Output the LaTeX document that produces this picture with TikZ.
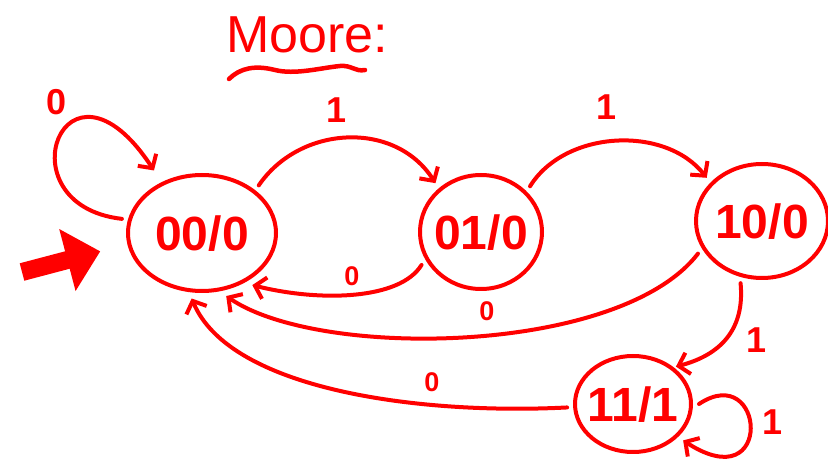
\documentclass[tikz,border=0pt]{standalone}
\usepackage{fontspec}
\setmainfont{Liberation Sans}
\usetikzlibrary{shapes.geometric,arrows.meta}
\definecolor{ink}{RGB}{255,0,0}
\newcommand{\stxt}[1]{\makebox[0pt]{\smash{\raisebox{-0.36em}{#1}}}}
\begin{document}
\begin{tikzpicture}[x=1pt,y=-1pt, ink, line width=4pt, line cap=round, line join=round,
  state/.style={ellipse, draw, inner sep=0pt, outer sep=8pt, font=\bfseries\fontsize{48}{48}\selectfont},
  edge/.style={-{Straight Barb[length=10pt,width=22pt]}},
  lbl/.style={font=\bfseries\fontsize{36}{36}\selectfont, inner sep=0pt},
  slbl/.style={font=\bfseries\fontsize{27}{27}\selectfont, inner sep=0pt}]
\useasboundingbox (0,0) rectangle (828,462);
\node[state, minimum width=148pt, minimum height=116pt] (s00) at (202,233) {\stxt{00/0}};
\node[state, minimum width=122pt, minimum height=114pt] (s01) at (481,232) {\stxt{01/0}};
\node[state, minimum width=132pt, minimum height=114pt] (s10) at (762,221) {\stxt{10/0}};
\node[state, minimum width=116pt, minimum height=96pt] (s11) at (633,404) {\stxt{11/1}};
\node[font=\fontsize{52}{52}\selectfont, inner sep=0pt] (title) at (307,35) {Moore:};
\draw[line width=4.5pt] (229,79) .. controls (240,68) and (255,65) .. (275,70) .. controls (295,75) and (320,68) .. (340,66) .. controls (352,65) and (355,72) .. (365,70);
% initial
\coordinate (init) at (22,272);
\draw[line width=18pt, line cap=butt, -{Triangle[length=34pt,width=62pt]}, shorten >=22pt] (init) -- (s00.189);
% edges
\draw[edge, shorten >=8pt] (s00.170) .. controls (0,205) and (65,35) .. (s00.128);
\node[lbl] (l1) at (57,102) {0};
\draw[edge] (s00.40) .. controls (300,125) and (395,120) .. (s01.133);
\node[lbl] (l2) at (337,110) {1};
\draw[edge] (s01.43) .. controls (565,130) and (665,125) .. (s10.142);
\node[lbl] (l3) at (607,107) {1};
\draw[edge] (s01.209) .. controls (400,300) and (320,302) .. (s00.314);
\node[slbl] (l4) at (352,276) {0};
\draw[edge] (s10.207) .. controls (620,355) and (320,360) .. (s00.291);
\node[slbl] (l5) at (487,311) {0};
\draw[edge, shorten >=-5pt] (s10.251) .. controls (745,330) and (720,355) .. (s11.39);
\node[lbl] (l6) at (757,340) {1};
\draw[edge] (s11.183) .. controls (420,415) and (230,390) .. (s00.261);
\node[slbl] (l7) at (432,382) {0};
\draw[edge] (s11.0) .. controls (765,360) and (775,500) .. (s11.324);
\node[lbl] (l8) at (773,422) {1};
\end{tikzpicture}
\end{document}
